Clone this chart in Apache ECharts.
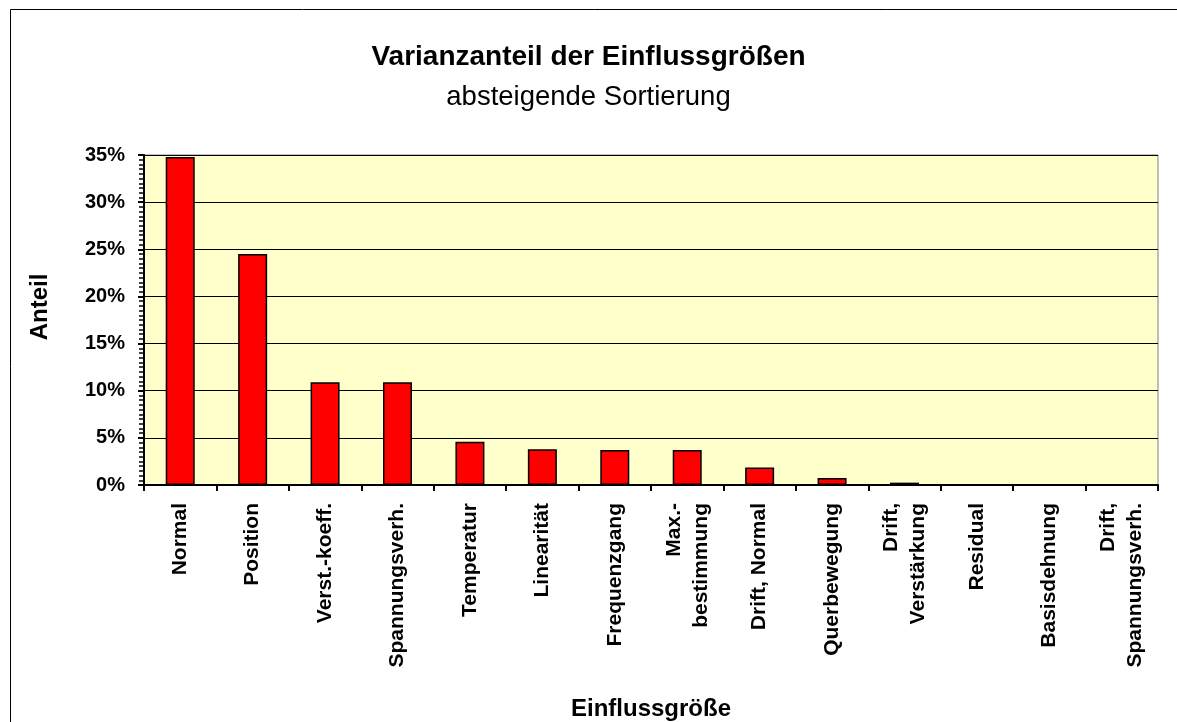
<!DOCTYPE html>
<html>
<head>
<meta charset="utf-8">
<script src="https://cdn.jsdelivr.net/npm/echarts@6/dist/echarts.min.js"></script>
<style>
html,body{margin:0;padding:0;background:#fff;}
#c{width:1177px;height:722px;}
</style>
</head>
<body>
<div id="c"></div>
<script>
const categories = ['Normal','Position','Verst.-koeff.','Spannungsverh.','Temperatur','Linearität','Frequenzgang','Max.-\nbestimmung','Drift, Normal','Querbewegung','Drift,\nVerstärkung','Residual','Basisdehnung','Drift,\nSpannungsverh.'];
const shares = [34.8, 24.5, 10.9, 10.9, 4.6, 3.8, 3.7, 3.7, 1.85, 0.73, 0.25, 0.02, 0.01, 0.01];
const yTicks = [0, 5, 10, 15, 20, 25, 30, 35];

const font = 'Liberation Sans, Arial, Helvetica, sans-serif';
const chart = echarts.init(document.getElementById('c'), null, {renderer:'canvas'});
chart.setOption({
  backgroundColor: '#ffffff',
  animation: false,
  graphic: [{
    type: 'rect', left: 8, top: 7, z: -10,
    shape: {width: 1300, height: 900},
    style: {fill: 'none', stroke: '#000', lineWidth: 1}
  }],
  title: [{
    text: 'Varianzanteil der Einflussgrößen',
    left: 'center', top: 38,
    textStyle: {fontFamily: font, fontSize: 28, fontWeight: 'bold', color: '#000'}
  },{
    text: 'absteigende Sortierung',
    left: 'center', top: 78,
    textStyle: {fontFamily: font, fontSize: 27.5, fontWeight: 'normal', color: '#000'}
  }],
  grid: {left: 144, right: 19, top: 155, bottom: 232, show: true, backgroundColor: '#FFFFCC', borderColor: '#808080', borderWidth: 1},
  xAxis: {
    type: 'category',
    data: categories,
    name: 'Einflussgröße',
    nameLocation: 'middle',
    nameGap: 212,
    nameTextStyle: {fontFamily: font, fontSize: 24, fontWeight: 'bold', color: '#000'},
    axisLine: {lineStyle: {color: '#000', width: 2}},
    axisTick: {show: true, alignWithLabel: false, length: 6, lineStyle: {color: '#000', width: 2}},
    axisLabel: {rotate: 90, interval: 0, margin: 18, fontFamily: font, fontSize: 21, fontWeight: 'bold', color: '#000', lineHeight: 27}
  },
  yAxis: {
    type: 'value',
    min: 0, max: 35, interval: 5,
    name: 'Anteil',
    nameLocation: 'middle',
    nameGap: 92,
    nameTextStyle: {fontFamily: font, fontSize: 24, fontWeight: 'bold', color: '#000', padding: [0, 0, 0, 26]},
    axisLine: {show: true, lineStyle: {color: '#000', width: 2}},
    axisTick: {show: true, length: 6, lineStyle: {color: '#000', width: 2}},
    minorTick: {show: true, splitNumber: 10, length: 5, lineStyle: {color: '#000', width: 1.5}},
    splitLine: {show: true, lineStyle: {color: '#000', width: 1}},
    axisLabel: {margin: 19, fontFamily: font, fontSize: 20, fontWeight: 'bold', color: '#000',
      formatter: v => yTicks.includes(v) ? v + '%' : ''}
  },
  series: [{
    type: 'bar',
    data: shares,
    barWidth: 29,
    itemStyle: {color: '#FF0000', borderColor: '#000', borderWidth: 1.5}
  }]
});
</script>
</body>
</html>
